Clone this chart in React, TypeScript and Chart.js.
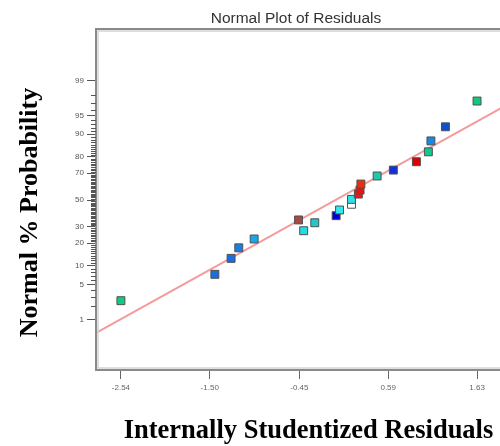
import React, { useEffect, useRef } from "react";
import { Chart, registerables } from "chart.js";

Chart.register(...registerables);

// ---- data ----
const residuals = [
  -2.54, -1.44, -1.25, -1.16, -0.98, -0.40, -0.27, -0.46, -0.02, 0.02, 0.16,
  0.16, 0.24, 0.26, 0.27, 0.46, 0.65, 0.92, 1.06, 1.09, 1.26, 1.63,
];
const probabilities = [
  2.5, 7.4, 12.8, 17.6, 22.4, 27.5, 32.9, 34.9, 38.0, 42.3, 46.7,
  50.5, 54.6, 57.7, 62.2, 68.0, 72.0, 77.2, 82.6, 87.5, 92.3, 97.3,
];
const pointColors = [
  "#14c983", "#1a6fe0", "#1a6fe0", "#1a7ee0", "#18a8e8", "#22dde0", "#20c8c8",
  "#a84848", "#0000d8", "#30e8f0", "#ffffff", "#30e0e8", "#ff1010", "#ee1010",
  "#e83010", "#20c8b0", "#1030e0", "#e00000", "#10c890", "#1888e0", "#1050d0",
  "#10c880",
];
const fitLineResiduals = [-2.82, 2.133];
const fitLineProbabilities = [0.5, 97.7];
const xTicks = [-2.54, -1.5, -0.45, 0.59, 1.63];
const yTickLabels = [1, 5, 10, 20, 30, 50, 70, 80, 90, 95, 99];
const yMinorTicks = [
  2, 3, 4, 6, 7, 8, 9, 11, 12, 13, 14, 15, 16, 17, 18, 19, 21, 22, 23, 24, 25,
  26, 27, 28, 29, 31, 32, 33, 34, 35, 36, 37, 38, 39, 40, 41, 42, 43, 44, 45,
  46, 47, 48, 49, 51, 52, 53, 54, 55, 56, 57, 58, 59, 60, 61, 62, 63, 64, 65,
  66, 67, 68, 69, 71, 72, 73, 74, 75, 76, 77, 78, 79, 81, 82, 83, 84, 85, 86,
  87, 88, 89, 91, 92, 93, 94, 96, 97, 98,
];

// inverse standard normal CDF (Acklam)
function probit(p: number): number {
  const a = [-39.69683028665376, 220.9460984245205, -275.9285104469687, 138.357751867269, -30.66479806614716, 2.506628277459239];
  const b = [-54.47609879822406, 161.5858368580409, -155.6989798598866, 66.80131188771972, -13.28068155288572];
  const c = [-0.007784894002430293, -0.3223964580411365, -2.400758277161838, -2.549732539343734, 4.374664141464968, 2.938163982698783];
  const d = [0.007784695709041462, 0.3224671290700398, 2.445134137142996, 3.754408661907416];
  const pl = 0.02425;
  if (p < pl) {
    const q = Math.sqrt(-2 * Math.log(p));
    return (((((c[0] * q + c[1]) * q + c[2]) * q + c[3]) * q + c[4]) * q + c[5]) / ((((d[0] * q + d[1]) * q + d[2]) * q + d[3]) * q + 1);
  }
  if (p > 1 - pl) {
    const q = Math.sqrt(-2 * Math.log(1 - p));
    return -(((((c[0] * q + c[1]) * q + c[2]) * q + c[3]) * q + c[4]) * q + c[5]) / ((((d[0] * q + d[1]) * q + d[2]) * q + d[3]) * q + 1);
  }
  const q = p - 0.5;
  const r = q * q;
  return ((((((a[0] * r + a[1]) * r + a[2]) * r + a[3]) * r + a[4]) * r + a[5]) * q) / (((((b[0] * r + b[1]) * r + b[2]) * r + b[3]) * r + b[4]) * r + 1);
}

const framePlugin = {
  id: "frameAndMinorTicks",
  afterDatasetsDraw(chart: any) {
    const { ctx, chartArea } = chart;
    const ys = chart.scales.y;
    ctx.save();
    // frame
    ctx.strokeStyle = "#8a8a8a";
    ctx.lineWidth = 2;
    ctx.strokeRect(chartArea.left - 1, chartArea.top - 1, chartArea.right - chartArea.left + 2, chartArea.bottom - chartArea.top + 2);
    ctx.strokeStyle = "#d4d4d4";
    ctx.lineWidth = 1.5;
    ctx.strokeRect(chartArea.left + 1, chartArea.top + 1, chartArea.right - chartArea.left - 2, chartArea.bottom - chartArea.top - 2);
    // minor ticks
    ctx.strokeStyle = "#555";
    ctx.lineWidth = 1;
    ctx.beginPath();
    yMinorTicks.forEach((p) => {
      const y = Math.round(ys.getPixelForValue(probit(p / 100))) + 0.5;
      ctx.moveTo(chartArea.left - 6, y);
      ctx.lineTo(chartArea.left - 1, y);
    });
    ctx.stroke();
    ctx.restore();
  },
};

export default function App() {
  const ref = useRef<HTMLCanvasElement>(null);
  useEffect(() => {
    if (!ref.current) return;
    const points = residuals.map((r, i) => ({ x: r, y: probit(probabilities[i] / 100) }));
    const line = fitLineResiduals.map((r, i) => ({ x: r, y: probit(fitLineProbabilities[i] / 100) }));
    const chart = new Chart(ref.current, {
      type: "scatter",
      data: {
        datasets: [
          {
            data: points,
            pointStyle: "rect",
            pointRadius: 5.6,
            pointBackgroundColor: pointColors,
            pointBorderColor: "#505050",
            pointBorderWidth: 1,
            order: 0,
          },
          {
            data: line,
            showLine: true,
            borderColor: "#f59a9a",
            borderWidth: 2,
            pointRadius: 0,
            order: 1,
          },
        ],
      },
      plugins: [framePlugin],
      options: {
        animation: false,
        responsive: false,
        devicePixelRatio: 1,
        layout: { padding: 0 },
        plugins: {
          legend: { display: false },
          tooltip: { enabled: false },
          title: {
            display: true,
            text: "Normal Plot of Residuals",
            color: "#333",
            font: { family: "'Liberation Sans', Arial, sans-serif", size: 15.5, weight: "normal" },
            padding: { top: 9, bottom: 2.4 },
          },
        },
        scales: {
          x: {
            type: "linear",
            position: "bottom",
            min: -2.82,
            max: 2.133,
            afterFit: (s: any) => { s.height = 77; },
            afterBuildTicks: (s: any) => { s.ticks = xTicks.map((v) => ({ value: v })); },
            grid: { drawOnChartArea: false, drawTicks: true, tickLength: 10, tickColor: "#666" },
            border: { display: false },
            ticks: {
              color: "#666",
              padding: 4,
              maxRotation: 0,
              autoSkip: false,
              font: { family: "'Liberation Sans', Arial, sans-serif", size: 8 },
              callback: (v: any) => Number(v).toFixed(2),
            },
            title: {
              display: true,
              text: "Internally Studentized Residuals",
              color: "#000",
              font: { family: "'Liberation Serif', 'Times New Roman', serif", size: 26.5, weight: "bold", lineHeight: 1.1 },
              padding: { top: 0, bottom: 0 },
            },
          },
          y: {
            type: "linear",
            position: "left",
            min: -3.29,
            max: 3.31,
            afterFit: (s: any) => { s.width = 97; },
            afterBuildTicks: (s: any) => { s.ticks = yTickLabels.map((p) => ({ value: probit(p / 100) })); },
            grid: { drawOnChartArea: false, drawTicks: true, tickLength: 10, tickColor: "#555" },
            border: { display: false },
            ticks: {
              color: "#555",
              padding: 3,
              autoSkip: false,
              font: { family: "'Liberation Sans', Arial, sans-serif", size: 8 },
              callback: (_v: any, i: number) => String(yTickLabels[i]),
            },
            title: {
              display: true,
              text: "Normal % Probability    ",
              color: "#000",
              font: { family: "'Liberation Serif', 'Times New Roman', serif", size: 26, weight: "bold", lineHeight: 1.1 },
              padding: { top: 16, bottom: 0 },
            },
          },
          y2: {
            type: "linear",
            position: "right",
            display: true,
            afterFit: (s: any) => { s.width = 72; },
            grid: { display: false },
            border: { display: false },
            ticks: { display: false },
          },
        },
      },
    } as any);
    return () => chart.destroy();
  }, []);
  return (
    <div style={{ position: "fixed", left: 0, top: 0, width: 500, height: 446, overflow: "hidden", background: "#fff" }}>
      <canvas ref={ref} width={592} height={446} style={{ width: 592, height: 446, display: "block" }} />
    </div>
  );
}
